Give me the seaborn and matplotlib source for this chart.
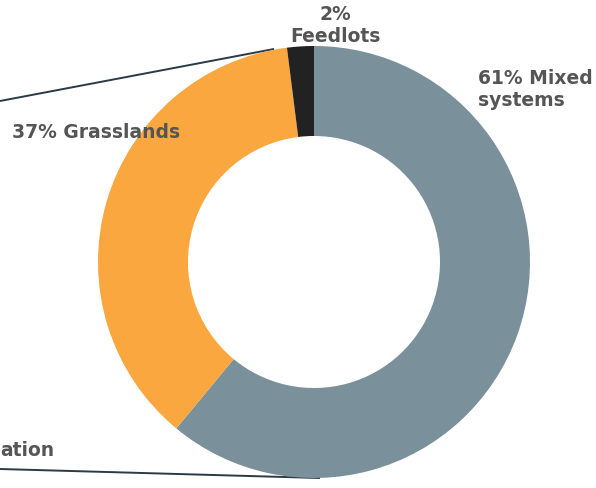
import matplotlib
matplotlib.use("Agg")
import matplotlib.pyplot as plt
import seaborn as sns

categories = ["Mixed systems", "Grasslands", "Feedlots"]
shares = [61, 37, 2]
colors = ["#7a909b", "#f9a73e", "#222222"]

sns.set_theme(style="white")
plt.rcParams['font.family'] = ['DejaVu Sans']

W, H = 596, 488
fig = plt.figure(figsize=(W / 100, H / 100), dpi=100)
ax = fig.add_axes([0, 0, 1, 1])
ax.set_xlim(0, W)
ax.set_ylim(0, H)
ax.set_aspect('equal')
ax.axis('off')

def Y(y):
    return H - y

# leader lines
lc = "#2b3a44"
ax.plot([0, 274], [Y(101), Y(49)], color=lc, lw=1.4, zorder=1, solid_capstyle='butt')
ax.plot([0, 320], [Y(469), Y(478)], color=lc, lw=1.4, zorder=1, solid_capstyle='butt')

wedges, _ = ax.pie(shares, colors=colors, startangle=90, counterclock=False,
                   radius=216, center=(314, Y(262)),
                   wedgeprops=dict(width=90, linewidth=0), frame=True)
for w in wedges:
    w.set_zorder(2)
ax.set_xlim(0, W)
ax.set_ylim(0, H)
ax.axis('off')

tc = "#555555"
fs = 13.5
ax.text(478, Y(89), "61% Mixed\nsystems", ha='left', va='center', fontsize=fs,
        fontweight='bold', color=tc, linespacing=1.2, zorder=3)
ax.text(12, Y(133), "37% Grasslands", ha='left', va='center', fontsize=fs,
        fontweight='bold', color=tc, zorder=3)
ax.text(335, Y(25), "2%\nFeedlots", ha='center', va='center', fontsize=fs,
        fontweight='bold', color=tc, linespacing=1.2, zorder=3)
ax.text(0, Y(451), "ation", ha='left', va='center', fontsize=fs,
        fontweight='bold', color=tc, zorder=3)

fig.savefig("out.png", dpi=100)
